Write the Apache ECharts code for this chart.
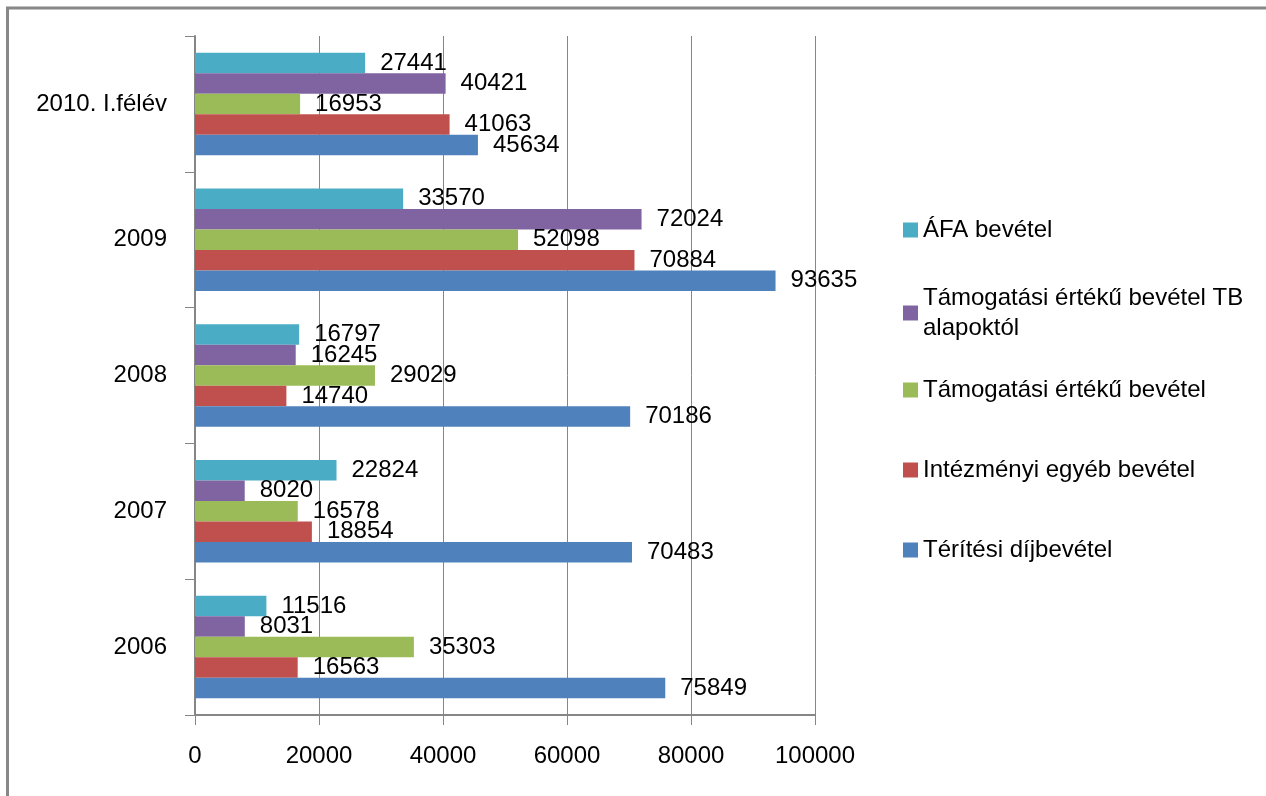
<!DOCTYPE html>
<html><head><meta charset="utf-8">
<script src="https://cdn.jsdelivr.net/npm/echarts@6/dist/echarts.min.js"></script>
<style>html,body{margin:0;padding:0;background:#fff}#c{width:1266px;height:796px}</style>
</head><body><div id="c"></div>
<script>
const categories = ['2006', '2007', '2008', '2009', '2010. I.félév'];
const teritesi = [75849, 70483, 70186, 93635, 45634];
const intezmenyi = [16563, 18854, 14740, 70884, 41063];
const tamogatasi = [35303, 16578, 29029, 52098, 16953];
const tamogatasiTB = [8031, 8020, 16245, 72024, 40421];
const afa = [11516, 22824, 16797, 33570, 27441];
const xTicks = [0, 20000, 40000, 60000, 80000, 100000];

// series order: top bar first within each category band
const names = ['ÁFA bevétel', 'Támogatási értékű bevétel TB alapoktól', 'Támogatási értékű bevétel', 'Intézményi egyéb bevétel', 'Térítési díjbevétel'];
const colors = ['#4BACC6', '#8064A2', '#9BBB59', '#C0504D', '#4F81BD'];
const datas = [afa, tamogatasiTB, tamogatasi, intezmenyi, teritesi];

const FONT = 'Liberation Sans';
const fs = 24;

const series = names.map((n, i) => ({
  name: n, type: 'bar', data: datas[i], barWidth: 20.5, barGap: '0%',
  itemStyle: { color: colors[i] },
  label: { show: true, position: 'right', distance: 15, color: '#000', fontFamily: FONT, fontSize: fs },
  animation: false
}));

const legendCenters = [228, 310, 388, 468, 548];
const legends = names.map((n, i) => {
  const two = i === 1;
  return {
    data: [n], left: 898, top: two ? legendCenters[i] - 47 : legendCenters[i] - 18,
    itemWidth: 15, itemHeight: 15, itemGap: 0,
    icon: 'rect',
    formatter: two ? 'Támogatási értékű bevétel TB\nalapoktól' : '{name}',
    textStyle: { fontFamily: FONT, fontSize: fs, color: '#000', lineHeight: 30, padding: two ? [30, 0, 0, 0] : 0 },
    selectedMode: false
  };
});

const chart = echarts.init(document.getElementById('c'));
chart.setOption({
  animation: false,
  graphic: [{ type: 'rect', shape: { x: 7.5, y: 8, width: 1400, height: 1000 }, style: { fill: null, stroke: '#888', lineWidth: 3 } }],
  legend: legends,
  grid: { left: 195, right: 451, top: 36, bottom: 81, containLabel: false },
  xAxis: {
    type: 'value', min: 0, max: 100000, interval: 20000,
    axisLine: { show: true, lineStyle: { color: '#868686', width: 2 } },
    axisTick: { show: true, length: 10, lineStyle: { color: '#868686' } },
    splitLine: { show: true, lineStyle: { color: '#868686', width: 1 } },
    axisLabel: { margin: 29, color: '#000', fontFamily: FONT, fontSize: fs, formatter: v => xTicks.includes(v) ? String(v) : '' }
  },
  yAxis: {
    type: 'category', data: categories,
    axisLine: { show: true, lineStyle: { color: '#868686', width: 2 } },
    axisTick: { show: true, length: 10, lineStyle: { color: '#868686' } },
    axisLabel: { margin: 28, color: '#000', fontFamily: FONT, fontSize: fs }
  },
  series: series
});
</script></body></html>
